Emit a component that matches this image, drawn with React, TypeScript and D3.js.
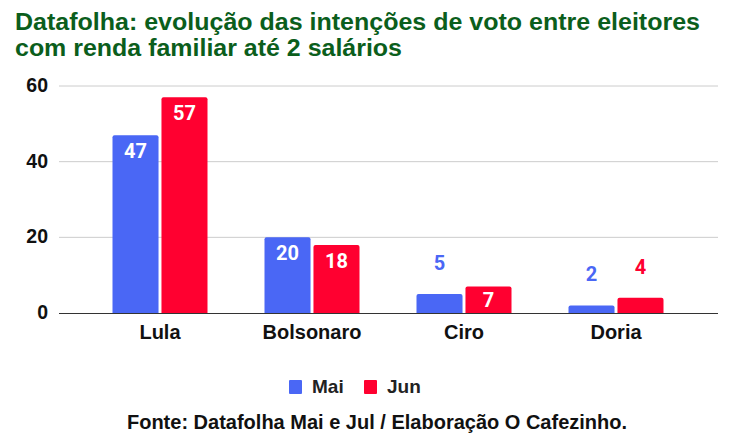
import React from "react";
import * as d3 from "d3";

const categories = ["Lula", "Bolsonaro", "Ciro", "Doria"];
const seriesNames = ["Mai", "Jun"];
const maiValues = [47, 20, 5, 2];
const junValues = [57, 18, 7, 4];
const yTicks = [0, 20, 40, 60];
const colors = ["#4a67f5", "#ff0030"];

const W = 733;
const H = 446;

export default function App() {
  const x = d3.scaleBand<string>().domain(categories).range([84, 692]).paddingInner(0.375).paddingOuter(0.1875);
  const x1 = d3.scaleBand<string>().domain(seriesNames).range([0, x.bandwidth()]).paddingInner(0.06);
  const y = d3.scaleLinear().domain([0, 60]).range([313, 86]);
  const series = [maiValues, junValues];
  const font = "'Liberation Sans', Arial, sans-serif";

  return (
    <svg width={W} height={H} style={{ position: "absolute", left: 0, top: 0, background: "#fff" }}>
      <rect width={W} height={H} fill="#fff" />
      <text x={15} y={30} fontFamily={font} fontWeight="bold" fontSize={23} fill="#0b5e1c" textLength={685} lengthAdjust="spacingAndGlyphs">
        Datafolha: evolução das intenções de voto entre eleitores
      </text>
      <text x={15} y={56} fontFamily={font} fontWeight="bold" fontSize={23} fill="#0b5e1c" textLength={387} lengthAdjust="spacingAndGlyphs">
        com renda familiar até 2 salários
      </text>
      {yTicks.map((t) => (
        <g key={t}>
          {t !== 0 && <line x1={59} x2={718} y1={y(t)} y2={y(t)} stroke="#cccccc" strokeWidth={1} />}
          <text x={48} y={y(t) + 6} textAnchor="end" fontFamily={font} fontWeight="bold" fontSize={19.5} fill="#111">
            {t}
          </text>
        </g>
      ))}
      {categories.map((c, i) => (
        <g key={c} transform={`translate(${x(c)},0)`}>
          {series.map((vals, s) => {
            const v = vals[i];
            const bx = x1(seriesNames[s])!;
            const top = y(v);
            const h = y(0) - top;
            const bw = x1.bandwidth();
            let ly: number;
            let fill: string;
            if (h >= 45) {
              ly = top + 23;
              fill = "#fff";
            } else if (h >= 25) {
              ly = top + h / 2 + 7;
              fill = "#fff";
            } else {
              ly = top - 24;
              fill = colors[s];
            }
            return (
              <g key={s}>
                <path
                  d={`M${bx},${y(0)} V${top + 2} Q${bx},${top} ${bx + 2},${top} H${bx + bw - 2} Q${bx + bw},${top} ${bx + bw},${top + 2} V${y(0)} Z`}
                  fill={colors[s]}
                />
                <text x={bx + bw / 2} y={ly} textAnchor="middle" fontFamily="Roboto" fontWeight="bold" fontSize={20} fill={fill}>
                  {v}
                </text>
              </g>
            );
          })}
          <text x={x.bandwidth() / 2} y={339} textAnchor="middle" fontFamily={font} fontWeight="bold" fontSize={20} fill="#111">
            {c}
          </text>
        </g>
      ))}
      <line x1={59} x2={718} y1={y(0) + 0.5} y2={y(0) + 0.5} stroke="#333" strokeWidth={1} />
      {seriesNames.map((n, s) => (
        <g key={n} transform={`translate(${s === 0 ? 289 : 364},380)`}>
          <rect width={13} height={14} rx={1} fill={colors[s]} />
          <text x={23} y={13} fontFamily={font} fontWeight="bold" fontSize={19} fill="#222">
            {n}
          </text>
        </g>
      ))}
      <text x={377} y={429} textAnchor="middle" fontFamily={font} fontWeight="bold" fontSize={20} fill="#111">
        Fonte: Datafolha Mai e Jul / Elaboração O Cafezinho.
      </text>
    </svg>
  );
}
